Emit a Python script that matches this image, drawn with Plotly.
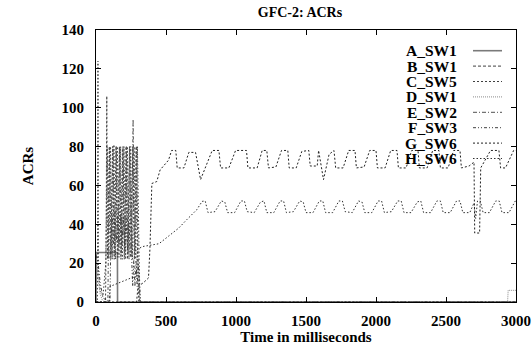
import plotly.graph_objects as go

# ---------------- data ----------------
names = ["A_SW1", "B_SW1", "C_SW5", "D_SW1", "E_SW2", "F_SW3", "G_SW6", "H_SW6"]

t_A = [0, 1, 153, 154, 3000]
v_A = [0, 25.5, 25.5, 0, 0]

t_B = [0, 68, 72, 77, 82, 95, 106, 119, 130, 143, 154, 167, 178, 191, 202, 215, 226, 239, 250, 263, 274, 287, 298, 305, 3000]
v_B = [0, 0, 30, 106, 22, 80, 22, 80, 22, 80, 23, 80, 22, 79, 22, 80, 22, 80, 23, 80, 22, 80, 22, 0, 0]

t_C = [0, 10, 14, 18, 30, 50, 70, 80, 92, 104, 116, 128, 140, 152, 164, 176, 188, 200, 212, 224, 236, 248, 260, 272, 284, 296, 308, 315, 3000]
v_C = [0, 0, 124, 15, 6, 3, 20, 80, 22, 80, 22, 81, 22, 80, 23, 80, 22, 80, 22, 80, 22, 80, 22, 80, 22, 80, 22, 0, 0]

t_D = [0, 8, 18, 30, 45, 60, 2940, 2944, 2992, 3000]
v_D = [25, 18, 10, 4, 1, 0, 0, 6, 6, 6]

t_E = [0, 85, 88, 97, 109, 121, 133, 145, 157, 169, 181, 193, 205, 217, 229, 241, 253, 265, 277, 289, 300, 312, 3000]
v_E = [0, 0, 25, 80, 25, 80, 25, 80, 26, 80, 25, 80, 25, 80, 25, 80, 25, 94, 25, 80, 25, 0, 0]

t_F = [0, 15, 30, 50, 100, 105, 115, 125, 135, 145, 155, 165, 175, 185, 195, 205, 215, 225, 235, 245, 255, 262, 270, 278, 286, 294, 302, 310, 318, 3000]
v_F = [24, 20, 10, 2, 0, 28, 45, 30, 46, 31, 44, 29, 45, 30, 44, 28, 43, 27, 40, 25, 22, 8, 22, 8, 21, 8, 20, 8, 0, 0]

t_G = [0, 290, 300, 340, 375, 385, 399, 434, 458, 518, 540, 570, 580, 628, 663, 711, 747, 790, 830, 878, 890, 949, 997,
       1075, 1085, 1151, 1187, 1220, 1232, 1285, 1325, 1370, 1380, 1430, 1470, 1520, 1530, 1580, 1590, 1625, 1665,
       1700, 1712, 1765, 1805, 1850, 1860, 1915, 1955, 2000, 2010, 2065, 2105, 2150, 2160, 2215, 2255, 2300, 2310,
       2365, 2405, 2450, 2460, 2515, 2555, 2600, 2610, 2665, 2700, 2705, 2740, 2748, 2818, 2878, 2890, 2925, 2983, 3000]
v_G = [0, 0, 8, 10, 12.4, 27, 61, 62, 68, 73, 78, 78, 69, 69, 77, 77, 63, 71, 78, 78, 69, 69, 78,
       78, 69, 69, 78, 78, 69, 69.5, 78, 78, 69, 69, 77.5, 78, 70, 70, 78, 63, 76,
       78, 69, 69, 78, 78, 69, 69.5, 78, 78, 69, 69, 78, 78, 69, 69, 78, 78, 69,
       69, 78, 78, 69, 69, 78, 78, 69, 70, 72, 35.5, 35.5, 69, 78, 78, 69, 69, 78, 78]

t_H = [0, 95, 100, 180, 255, 290, 295, 330, 410, 450, 520, 590, 650, 720, 758,
       780, 800, 850, 895, 920, 940, 990, 1035, 1060, 1080, 1130, 1175, 1200, 1220, 1270, 1315, 1340, 1360, 1410,
       1455, 1480, 1500, 1550, 1595, 1620, 1640, 1690, 1735, 1760, 1780, 1830, 1875, 1900, 1920, 1970, 2015, 2040,
       2060, 2110, 2155, 2180, 2200, 2250, 2295, 2320, 2340, 2390, 2435, 2460, 2480, 2530, 2575, 2600, 2620, 2670,
       2700, 2712, 2725, 2745, 2765, 2810, 2855, 2880, 2900, 2950, 2995, 3000]
v_H = [0, 0, 8, 10.5, 12.5, 13, 27, 28.5, 29.5, 30, 34, 38, 42.5, 47.5, 51.8,
       52, 46, 46.5, 52, 51.5, 46, 46, 52, 52, 46.5, 46, 51.5, 52, 46, 46, 52, 52, 46, 46.5,
       52, 51.5, 46, 46, 52, 52, 46, 46, 52, 52, 46.5, 46, 52, 51.5, 46, 46, 52, 52,
       46, 46.5, 52, 52, 46, 46, 51.5, 52, 46, 46, 52, 52, 46, 46, 52, 52, 46, 46,
       51, 43, 52, 52, 46, 46, 52, 52, 46, 46, 52, 52]

x_ticks = [0, 500, 1000, 1500, 2000, 2500, 3000]
y_ticks = [0, 20, 40, 60, 80, 100, 120, 140]

# ---------------- styles ----------------
series = [
    (t_A, v_A, dict(color="#7a7a7a", width=1.6, dash="solid")),
    (t_B, v_B, dict(color="#404040", width=1, dash="2px,2px")),
    (t_C, v_C, dict(color="#404040", width=1, dash="1.5px,2px")),
    (t_D, v_D, dict(color="#8a8a8a", width=1, dash="1px,1px")),
    (t_E, v_E, dict(color="#505050", width=1, dash="3px,2px,1px,2px")),
    (t_F, v_F, dict(color="#404040", width=1, dash="3px,2px,1px,2px,1px,2px")),
    (t_G, v_G, dict(color="#202020", width=1, dash="2px,2px")),
    (t_H, v_H, dict(color="#303030", width=1, dash="1.5px,2px")),
]
legend_dash = ["solid", "3px,2px", "2px,2px", "1px,1px", "4px,2px,1px,2px", "3px,2px,1px,2px,1px,2px", "2px,2px", "1.5px,2px"]

FONT = "Liberation Serif"

fig = go.Figure()
for (tx, vy, ln), nm in zip(series, names):
    fig.add_trace(go.Scatter(x=tx, y=vy, mode="lines", name=nm, line=ln, showlegend=False))

# gnuplot-style key (text right, sample on the right)
L, R, T, B = 96, 16, 30, 48
W, H = 532, 350
pw, ph = W - L - R, H - T - B
rows_py = [50.7, 66.1, 81.5, 96.9, 112.3, 127.7, 143.1, 158.5]
for (tx, vy, ln), nm, py, dsh in zip(series, names, rows_py, legend_dash):
    yp = (H - B - py) / ph
    fig.add_annotation(x=(458 - L) / pw, y=yp, xref="paper", yref="paper", text="<b>%s</b>" % nm,
                       showarrow=False, xanchor="right", yanchor="middle", borderpad=0,
                       font=dict(family=FONT, size=15.5, color="black"))
    fig.add_shape(type="line", xref="paper", yref="paper", x0=(473 - L) / pw, x1=(502 - L) / pw,
                  y0=yp, y1=yp, line=dict(color=ln["color"], width=ln["width"], dash=dsh))

axis_common = dict(showline=True, linecolor="black", linewidth=1, mirror="ticks", ticks="inside",
                   ticklen=5, tickcolor="black", showgrid=False, zeroline=False, automargin=False,
                   tickfont=dict(family=FONT, size=15, color="black", weight="bold"))

fig.update_layout(
    width=W, height=H, margin=dict(l=L, r=R, t=T, b=B),
    paper_bgcolor="white", plot_bgcolor="white",
    title=dict(text="<b>GFC-2: ACRs</b>", x=300 / W, xref="container", xanchor="center",
               y=1 - 12 / H, yref="container", yanchor="middle",
               font=dict(family=FONT, size=14, color="black")),
    xaxis=dict(range=[0, 3000], tickvals=x_ticks, ticklabelstandoff=5,
               title=dict(text="<b>Time in milliseconds</b>", standoff=2,
                          font=dict(family=FONT, size=15, color="black")),
               **axis_common),
    yaxis=dict(range=[0, 140], tickvals=y_ticks, ticklabelstandoff=8,
               title=dict(text="<b>ACRs</b>", standoff=24,
                          font=dict(family=FONT, size=15, color="black")),
               **axis_common),
)

fig.write_html("out.html")
